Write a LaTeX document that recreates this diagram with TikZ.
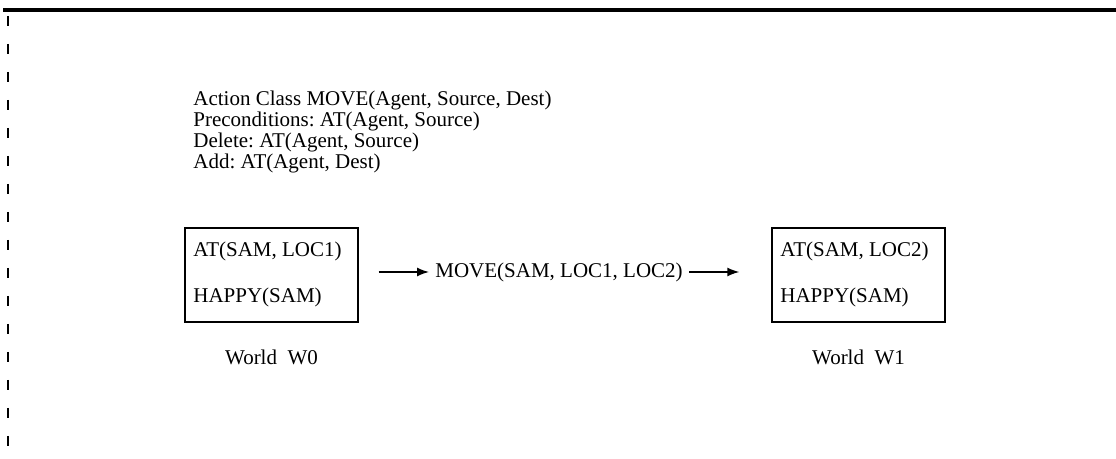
\documentclass[tikz,border=0pt]{standalone}
\usepackage{fontspec}
\setmainfont{Liberation Serif}
\usetikzlibrary{arrows.meta}
\begin{document}
\begin{tikzpicture}[x=0.5pt,y=-0.5pt,
  txt/.style={anchor=west,inner sep=0pt,font=\fontsize{10.5}{12}\selectfont},
  worldbox/.style={draw,line width=0.7pt,minimum width=86.5pt,minimum height=47pt,inner sep=0pt},
  arr/.style={-{Latex[length=6pt,width=4.5pt]},line width=0.7pt},
  caption/.style={inner sep=0pt,font=\fontsize{10.5}{12}\selectfont}]
\useasboundingbox (0,0) rectangle (1116,459);
% page frame remnants
\coordinate (tl) at (3,10);
\coordinate (tr) at (1116,10);
\coordinate (bl) at (8,459);
\draw[line width=1.8pt] (tl) -- (tr);
\draw[line width=0.6pt,dash pattern=on 5pt off 9pt] ([yshift=-3pt]tl -| bl) -- (bl);
% schema text
\node[txt] (l1) at (193,100) {Action Class MOVE(Agent, Source, Dest)};
\node[txt] (l2) at (193,121) {Preconditions:\ AT(Agent, Source)};
\node[txt] (l3) at (193,142) {Delete:\ AT(Agent, Source)};
\node[txt] (l4) at (193,163) {Add:\ AT(Agent, Dest)};
% world W0
\node[worldbox] (w0) at (271.5,275) {};
\node[txt] (a0) at (193,251) {AT(SAM, LOC1)};
\node[txt] (h0) at (193,297) {HAPPY(SAM)};
\node[caption] (c0) at (271.5,357) {World\ \ W0};
% action
\node[txt] (mv) at (435,272) {MOVE(SAM, LOC1, LOC2)};
% world W1
\node[worldbox] (w1) at (858.5,275) {};
\node[txt] (a1) at (780,251) {AT(SAM, LOC2)};
\node[txt] (h1) at (780,297) {HAPPY(SAM)};
\node[caption] (c1) at (858.5,357) {World\ \ W1};
% arrows
\draw[arr,shorten <=10pt,shorten >=3pt] (w0.east |- mv.west) -- (mv.west);
\draw[arr,shorten <=3pt,shorten >=16pt] (mv.east) -- (w1.west |- mv.east);
\end{tikzpicture}
\end{document}
